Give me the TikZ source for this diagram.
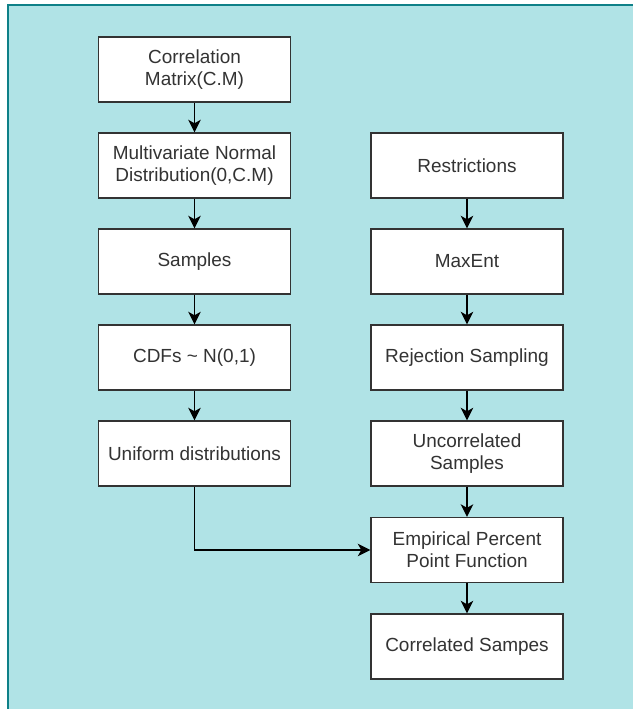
\documentclass[tikz,border=0pt]{standalone}
\usepackage{fontspec}
\setmainfont{Liberation Sans}
\usepackage{tikz}
\usetikzlibrary{arrows.meta}

\definecolor{panelfill}{HTML}{B0E3E6}
\definecolor{panelline}{HTML}{0E8088}
\definecolor{boxtext}{HTML}{333333}

\tikzset{
    stepbox/.style={draw=boxtext,line width=0.8pt,fill=white,minimum width=3.84cm,minimum height=1.3cm,align=center,text=boxtext,font=\fontsize{10.8}{12.5}\selectfont},
    flow/.style={draw=black,line width=0.8pt,-{Stealth[length=2.5mm,width=2.5mm,inset=0.7mm]}}
}

\begin{document}
\begin{tikzpicture}
    \useasboundingbox (0,0) rectangle (12.66,-14.18);
    \fill[panelfill] (0.16,-0.1) rectangle (12.66,-14.18);
    \draw[panelline,line width=1pt] (0.16,-14.18) |- (12.66,-0.1);
    % left column
    \node[stepbox] (corr) at (3.89,-1.39) {Correlation\\Matrix(C.M)};
    \node[stepbox] (mvn) at (3.89,-3.31) {Multivariate Normal\\Distribution(0,C.M)};
    \node[stepbox] (samp) at (3.89,-5.23) {Samples};
    \node[stepbox] (cdf) at (3.89,-7.15) {CDFs \textasciitilde{} N(0,1)};
    \node[stepbox] (unif) at (3.89,-9.07) {Uniform distributions};
    % right column
    \node[stepbox] (restr) at (9.34,-3.31) {Restrictions};
    \node[stepbox] (maxent) at (9.34,-5.23) {MaxEnt};
    \node[stepbox] (rejsamp) at (9.34,-7.15) {Rejection Sampling};
    \node[stepbox] (uncorr) at (9.34,-9.07) {Uncorrelated\\Samples};
    \node[stepbox] (eppf) at (9.34,-11.0) {Empirical Percent\\Point Function};
    \node[stepbox] (corrsamp) at (9.34,-12.93) {Correlated Sampes};
    \draw[flow] (corr) -- (mvn);
    \draw[flow] (mvn) -- (samp);
    \draw[flow] (samp) -- (cdf);
    \draw[flow] (cdf) -- (unif);
    \draw[flow] (restr) -- (maxent);
    \draw[flow] (maxent) -- (rejsamp);
    \draw[flow] (rejsamp) -- (uncorr);
    \draw[flow] (uncorr) -- (eppf);
    \draw[flow] (eppf) -- (corrsamp);
    \draw[flow] (unif) |- (eppf);
\end{tikzpicture}
\end{document}
